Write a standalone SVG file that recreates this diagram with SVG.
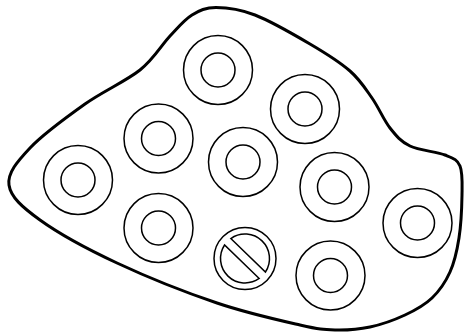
<svg xmlns="http://www.w3.org/2000/svg" width="464" height="333" viewBox="0 0 464 333">
<style>
.blob{fill:#fff;stroke:#000;stroke-width:3;stroke-linejoin:round}
.ring{fill:none;stroke:#000;stroke-width:1.5}
</style>
<rect width="464" height="333" fill="#fff"/>
<g id="tray">
<path class="blob" d="M216,7.5 C226.5,7.5 239.3,8.9 255,15 C270.7,21.1 294.2,34.7 310,44 C325.8,53.3 339.7,62 350,71 C360.3,80 365.3,88.5 372,98 C378.7,107.5 383.7,120 390,128 C396.3,136 400.8,141.5 410,146 C419.2,150.5 436.7,151.7 445,155 C453.3,158.3 457.2,159.3 460,166 C462.8,172.7 462.2,183 462,195 C461.8,207 461,225.2 459,238 C457,250.8 454.5,262 450,272 C445.5,282 439.5,290.8 432,298 C424.5,305.2 415.3,310.2 405,315 C394.7,319.8 381.7,324.5 370,327 C358.3,329.5 346.7,330.3 335,330 C323.3,329.7 319.7,329.5 300,325 C280.3,320.5 247.5,313.3 217,303 C186.5,292.7 146.5,276.8 117,263 C87.5,249.2 58,233 40,220 C22,207 10.7,197 9,185 C7.3,173 17.3,161.5 30,148 C42.7,134.5 66.7,117 85,104 C103.3,91 125.8,81.3 140,70 C154.2,58.7 161.3,45.2 170,36 C178.7,26.8 184.3,19.75 192,15 C199.7,10.25 205.5,7.5 216,7.5 Z"/>
</g>
<g id="well1"><circle class="ring" cx="218" cy="70" r="34.5"/><circle class="ring" cx="218" cy="70" r="17"/></g>
<g id="well2"><circle class="ring" cx="305" cy="109" r="34.5"/><circle class="ring" cx="305" cy="109" r="17"/></g>
<g id="well3"><circle class="ring" cx="158.5" cy="138.5" r="34.5"/><circle class="ring" cx="158.5" cy="138.5" r="17"/></g>
<g id="well4"><circle class="ring" cx="243" cy="162" r="34.5"/><circle class="ring" cx="243" cy="162" r="17"/></g>
<g id="well5"><circle class="ring" cx="78" cy="180" r="34.5"/><circle class="ring" cx="78" cy="180" r="17"/></g>
<g id="well6"><circle class="ring" cx="334.5" cy="187" r="34.5"/><circle class="ring" cx="334.5" cy="187" r="17"/></g>
<g id="well7"><circle class="ring" cx="158.5" cy="228" r="34.5"/><circle class="ring" cx="158.5" cy="228" r="17"/></g>
<g id="well8"><circle class="ring" cx="417.5" cy="223" r="34.5"/><circle class="ring" cx="417.5" cy="223" r="17"/></g>
<g id="well9"><circle class="ring" cx="330.5" cy="275.5" r="34.5"/><circle class="ring" cx="330.5" cy="275.5" r="17"/></g>
<g id="blocked">
<circle class="ring" cx="245" cy="258.5" r="31"/>
<path class="ring" d="M230.82,238.52 L265.44,272 A24.5,24.5 0 0 0 230.82,238.52 Z"/>
<path class="ring" d="M259.18,278.48 L224.56,245 A24.5,24.5 0 0 0 259.18,278.48 Z"/>
</g>
<g id="connectors"/>
</svg>
